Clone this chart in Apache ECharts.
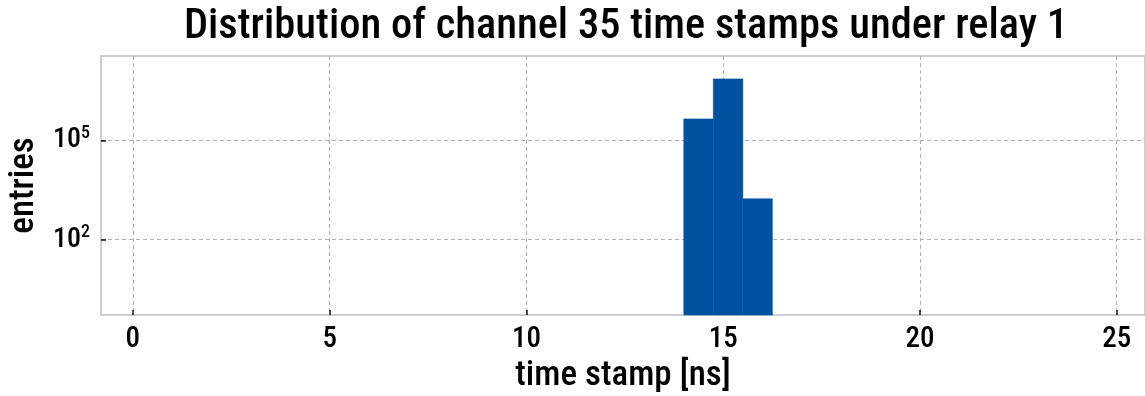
<!DOCTYPE html>
<html>
<head>
<meta charset="utf-8">
<script src="https://cdn.jsdelivr.net/npm/echarts@6/dist/echarts.min.js"></script>
<style>
  html, body { margin: 0; padding: 0; background: #fff; }
  #chart { width: 1145px; height: 396px; }
</style>
</head>
<body>
<div id="chart"></div>
<script>
// histogram bins (ns) and counts
const binEdges = [14.0, 14.75, 15.5, 16.25];
const counts = [4.4e5, 7.1e6, 1.7e3];
const xTicks = [0, 5, 10, 15, 20, 25];
const yTicks = [100, 100000];

const FONT = '"Roboto Condensed", "Liberation Sans Narrow", "DejaVu Sans Condensed", sans-serif';

const bars = counts.map((c, i) => [binEdges[i], binEdges[i + 1], c]);
const yMin = 0.53;

const chart = echarts.init(document.getElementById("chart"));
chart.setOption({
  animation: false,
  title: {
    text: "Distribution of channel 35 time stamps under relay 1",
    left: 621,
    textAlign: "center",
    top: 1,
    textStyle: { fontFamily: FONT, fontSize: 42.5, fontWeight: 500, color: "#000" }
  },
  grid: {
    left: 101,
    right: 0,
    top: 56,
    bottom: 81,
    outerBoundsMode: "none",
    containLabel: false,
    show: true,
    borderColor: "#bdbdbd",
    borderWidth: 1.5
  },
  xAxis: {
    type: "value",
    min: -0.81,
    max: 25.72,
    name: "time stamp [ns]",
    nameLocation: "middle",
    nameGap: 42,
    nameTextStyle: { fontFamily: FONT, fontSize: 35, fontWeight: 500, color: "#000" },
    axisLine: { show: false, onZero: false },
    axisTick: { show: true, inside: true, length: 5, customValues: xTicks, lineStyle: { color: "#111", width: 1.5 } },
    axisLabel: {
      customValues: xTicks,
      fontFamily: FONT, fontSize: 29, fontWeight: 500, color: "#000", margin: 10
    },
    splitLine: { show: true, lineStyle: { color: "#b0b0b0", type: [4, 3], width: 1 } }
  },
  yAxis: {
    type: "log",
    logBase: 10,
    min: yMin,
    max: 3.5e7,
    name: "entries",
    nameLocation: "middle",
    nameGap: 57,
    nameRotate: 90,
    nameTextStyle: { fontFamily: FONT, fontSize: 35, fontWeight: 500, color: "#000" },
    axisLine: { show: false, onZero: false },
    axisTick: { show: true, inside: true, length: 5, customValues: yTicks, lineStyle: { color: "#111", width: 1.5 } },
    axisLabel: {
      customValues: yTicks,
      margin: 11,
      formatter: v => "{b|10}{s|" + Math.round(Math.log10(v)) + "}",
      rich: {
        b: { fontFamily: FONT, fontSize: 28, fontWeight: 500, color: "#000" },
        s: { fontFamily: FONT, fontSize: 18, fontWeight: 500, color: "#000", verticalAlign: "top", padding: [0, 0, 14, 0] }
      }
    },
    splitLine: { show: true, lineStyle: { color: "#b0b0b0", type: [4, 3], width: 1 } }
  },
  series: [{
    type: "custom",
    data: bars,
    encode: { x: [0, 1], y: 2 },
    renderItem: (params, api) => {
      const p0 = api.coord([api.value(0), api.value(2)]);
      const p1 = api.coord([api.value(1), yMin]);
      return {
        type: "rect",
        shape: { x: p0[0], y: p0[1], width: p1[0] - p0[0], height: p1[1] - p0[1] },
        style: { fill: "#0051a0", stroke: "#0051a0", lineWidth: 0.6 }
      };
    },
    z: 1
  }]
});
</script>
</body>
</html>
